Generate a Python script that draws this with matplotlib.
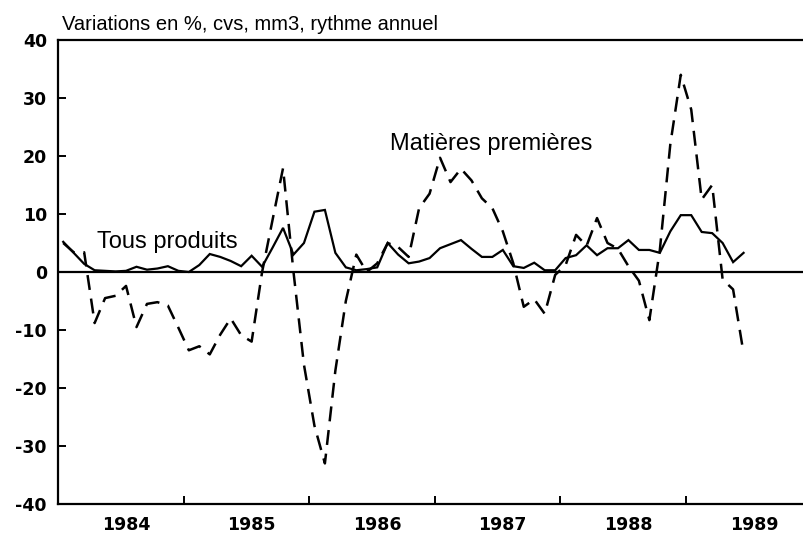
import numpy as np
import matplotlib
matplotlib.use("Agg")
import matplotlib.pyplot as plt

# monthly values, Jan 1984 .. Jun 1989 (mm3, annual rate, %)
start_year = 1984
tous_produits = [
    5.2, 3.3, 1.4, 0.3, 0.2, 0.1, 0.2, 0.9, 0.4, 0.6, 1.0, 0.2,
    0.0, 1.2, 3.1, 2.6, 1.9, 1.0, 2.8, 0.9, 4.2, 7.6, 3.0, 5.0,
    10.4, 10.7, 3.3, 0.8, 0.3, 0.5, 0.8, 5.0, 3.0, 1.5, 1.8, 2.4,
    4.1, 4.8, 5.5, 4.0, 2.6, 2.6, 3.8, 1.0, 0.7, 1.6, 0.3, 0.3,
    2.4, 2.9, 4.6, 2.9, 4.1, 4.1, 5.5, 3.8, 3.8, 3.3, 7.0, 9.8,
    9.8, 6.9, 6.7, 5.0, 1.7, 3.3,
]
matieres_premieres = [
    5.0, 3.4, 3.4, -8.8, -4.5, -4.1, -2.4, -9.5, -5.5, -5.2, -5.8, -9.6,
    -13.5, -12.8, -14.2, -10.8, -8.0, -10.9, -12.0, 0.0, 9.0, 17.9, 0.0, -16.0,
    -26.5, -33.0, -17.0, -5.0, 3.0, 0.0, 1.5, 5.0, 4.3, 2.6, 11.0, 13.5,
    19.7, 15.5, 17.8, 15.8, 12.7, 11.0, 7.0, 1.5, -6.0, -4.7, -7.2, -0.5,
    1.2, 6.4, 4.5, 9.3, 5.0, 4.0, 1.0, -1.5, -8.3, 3.8, 22.0, 34.0,
    28.0, 12.5, 15.0, -1.3, -3.0, -14.0,
]
years = [1984, 1985, 1986, 1987, 1988, 1989]
yticks = [-40, -30, -20, -10, 0, 10, 20, 30, 40]

months = np.arange(len(tous_produits))
x = start_year + (months + 0.5) / 12.0

fig = plt.figure(figsize=(8.04, 5.33), dpi=100)
ax = fig.add_axes([58 / 804, 1 - 504 / 533, 1 - 58 / 804, (504 - 40) / 533])

ax.plot(x, tous_produits, color="black", lw=1.6, solid_joinstyle="miter")
ax.plot(x, matieres_premieres, color="black", lw=1.8, dashes=(6, 3.5))
ax.axhline(0, color="black", lw=1.6)

ax.set_xlim(1984, 1984 + (804 - 58) / 125.6)
ax.set_ylim(-40, 40)

ax.spines["right"].set_visible(False)
for s in ["left", "bottom", "top"]:
    ax.spines[s].set_linewidth(1.6)

tick_font = dict(family="DejaVu Sans", weight="bold", size=12.5)
ax.set_yticks(yticks)
ax.set_yticklabels([str(v) for v in yticks], **tick_font)
ax.tick_params(axis="y", direction="in", length=6, width=1.4, pad=8)

ax.set_xticks(years[1:])
ax.set_xticklabels([])
ax.tick_params(axis="x", which="major", direction="in", length=6, width=1.4)
ax.set_xticks([y + 0.54 for y in years], minor=True)
ax.set_xticklabels([str(y) for y in years], minor=True, **tick_font)
ax.tick_params(axis="x", which="minor", length=0, pad=9)

ax.text(1984.31, 4.1, "Tous produits", fontsize=17, family="Liberation Sans")
ax.text(1986.64, 21.0, "Matières premières", fontsize=17, family="Liberation Sans")
fig.text(62 / 804, 1 - 30 / 533, "Variations en %, cvs, mm3, rythme annuel",
         fontsize=14.5, family="Liberation Sans", va="baseline")

fig.savefig("out.png", dpi=100)
